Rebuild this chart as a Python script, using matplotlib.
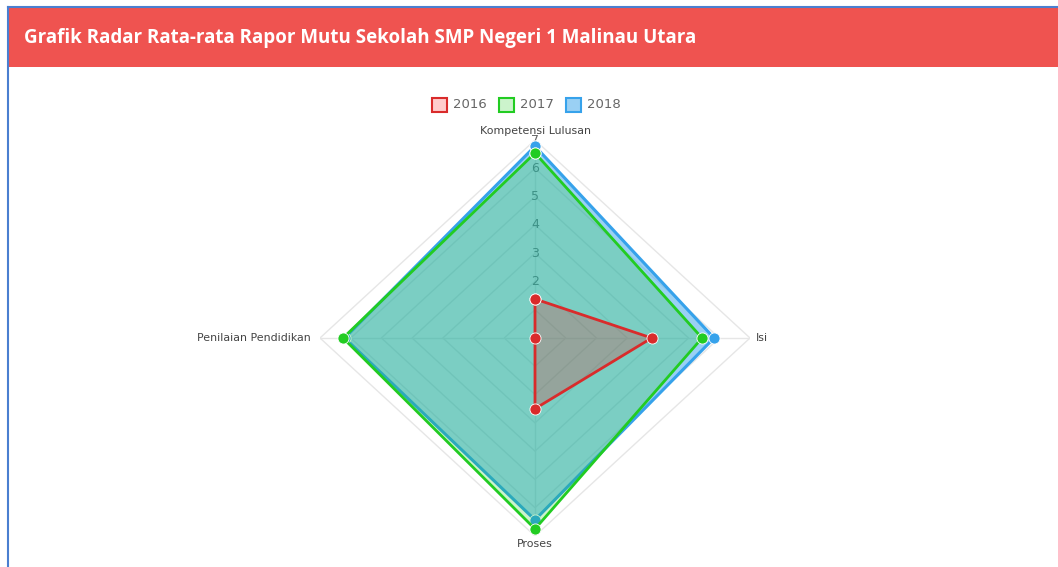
import numpy as np
import matplotlib
matplotlib.use("Agg")
import matplotlib.pyplot as plt
from matplotlib.patches import Rectangle

# data
categories = ["Kompetensi Lulusan", "Isi", "Proses", "Penilaian Pendidikan"]
years = ["2016", "2017", "2018"]
v2016 = [1.38, 3.8, 2.5, 0.0]
v2017 = [6.54, 5.44, 6.75, 6.25]
v2018 = [6.78, 5.83, 6.43, 6.2]
tick_vals = [2, 3, 4, 5, 6, 7]
rmax = 7

line_cols = {"2016": "#d92b2b", "2017": "#22cc22", "2018": "#36a2eb"}
fill_cols = {"2016": (1, 0, 0, 0.2), "2017": (0, 0.78, 0, 0.2), "2018": (0.21, 0.64, 0.92, 0.5)}
series = {"2016": v2016, "2017": v2017, "2018": v2018}

W, H = 1058, 567
fig = plt.figure(figsize=(W / 100, H / 100), dpi=100)

# header bar and frame
fig.patches.append(Rectangle((8 / W, 1 - 67 / H), 1, 60 / H, transform=fig.transFigure,
                             facecolor="#ef5350", edgecolor="none", zorder=0))
fig.add_artist(plt.Line2D([8 / W, 1], [1 - 7 / H, 1 - 7 / H], color="#4a7fd0", lw=1.5))
fig.add_artist(plt.Line2D([8 / W, 8 / W], [0, 1 - 7 / H], color="#4a7fd0", lw=1.5))
fig.text(24 / W, 1 - 38 / H, "Grafik Radar Rata-rata Rapor Mutu Sekolah SMP Negeri 1 Malinau Utara",
         color="white", fontsize=13.5, fontweight="bold", family="Open Sans", va="center")

# legend
lx = [432, 499, 566]
for x, y in zip(lx, years):
    c = fill_cols[y]
    fig.patches.append(Rectangle((x / W, 1 - 112 / H), 15 / W, 14 / H, transform=fig.transFigure,
                                 facecolor=c, edgecolor=line_cols[y], lw=1.5))
    fig.text((x + 21) / W, 1 - 105 / H, y, color="#666666", fontsize=9.5, va="center")

# radar (screenshot is a bit wider than tall, so the axes box is too)
cx, cy, Rx, Ry = 535, 338, 215, 198
ax = fig.add_axes([(cx - Rx) / W, (H - cy - Ry) / H, 2 * Rx / W, 2 * Ry / H], projection="polar")
ax.set_aspect("auto")
ax.set_theta_offset(np.pi / 2)
ax.set_theta_direction(-1)
ax.set_ylim(0, rmax)
ax.grid(False)
ax.spines["polar"].set_visible(False)
ax.set_xticks([])
ax.set_yticks([])
ax.patch.set_alpha(0)

theta = np.arange(len(categories)) * 2 * np.pi / len(categories)
tclosed = np.append(theta, theta[0])

for lvl in range(1, rmax + 1):
    ax.plot(tclosed, [lvl] * len(tclosed), color="#e6e6e6", lw=1, zorder=1)
for t in theta:
    ax.plot([t, t], [0, rmax], color="#e6e6e6", lw=1, zorder=1)

for v in tick_vals:
    ax.text(0, v, str(v), color="#666666", fontsize=9, ha="center", va="center", zorder=2)

for i, y in enumerate(["2018", "2017", "2016"]):
    vals = np.append(series[y], series[y][0])
    z = 3 + i * 2
    ax.fill(tclosed, vals, color=fill_cols[y], lw=0, zorder=z)
    ax.plot(tclosed, vals, color=line_cols[y], lw=2.2 if y == "2018" else 2, zorder=z + 1,
            marker="o", markersize=8, markeredgecolor="white", markeredgewidth=0.6)

fs = 7.9
ax.text(theta[0], 7.33, categories[0], ha="center", va="center", fontsize=fs, color="#444444")
ax.text(theta[1], 7.2, categories[1], ha="left", va="center", fontsize=fs, color="#444444")
ax.text(theta[2], 7.3, categories[2], ha="center", va="center", fontsize=fs, color="#444444")
ax.text(theta[3], 7.3, categories[3], ha="right", va="center", fontsize=fs, color="#444444")

fig.savefig("out.png", dpi=100)
